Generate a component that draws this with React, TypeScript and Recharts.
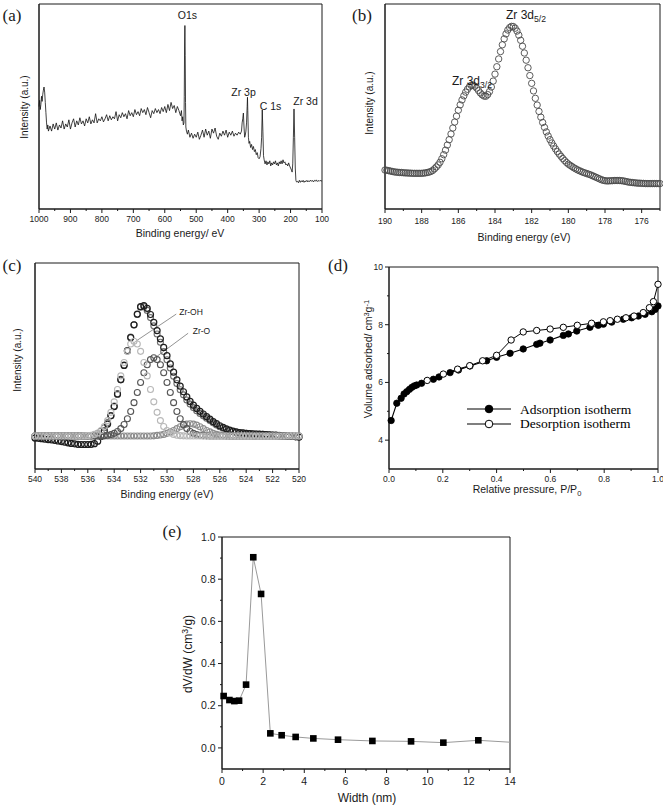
import React from 'react';
import { LineChart, Line, XAxis, YAxis, ReferenceArea, ReferenceLine, Legend } from 'recharts';

const SANS = '"Liberation Sans", Arial, Helvetica, sans-serif';
const SERIF = '"Liberation Serif", "Times New Roman", Times, serif';
const INK = '#1a1a1a';

// ---------------- (a) XPS survey ----------------
const aSurvey: number[][] = [
  [1000, 50], [998, 53], [996, 48.5], [994, 51], [992, 55], [990, 52.5], [988, 56], [986, 58], [984, 59.5], [982, 57],
  [980, 52], [978, 47], [976, 42], [974, 39], [972, 41], [970, 38],
  [965, 40.5], [960, 38], [955, 41.5], [950, 39], [945, 42], [940, 38.5], [935, 41], [930, 39.5], [925, 43], [920, 39],
  [915, 41.5], [910, 40], [905, 43.5], [900, 39], [895, 42], [890, 44], [885, 40], [880, 43], [875, 41], [870, 44.5],
  [865, 41.5], [860, 43], [855, 40.5], [850, 44], [845, 42], [840, 45], [835, 41.5], [830, 43.5], [825, 42], [820, 46.5],
  [815, 42], [810, 44], [805, 43], [800, 45], [795, 42.5], [790, 44], [785, 46], [780, 43], [775, 45.5], [770, 43.5],
  [765, 45], [760, 44], [755, 47.5], [750, 43], [745, 46], [740, 44.5], [735, 47], [730, 45], [725, 46.5], [720, 44],
  [715, 48], [710, 45.5], [705, 47], [700, 45], [695, 48.5], [690, 46], [685, 47.5], [680, 45.5], [675, 49], [670, 47],
  [665, 48.5], [660, 46], [655, 49.5], [650, 47], [645, 44.5], [640, 48], [635, 46.5], [630, 49], [625, 47], [620, 48.5],
  [615, 46.5], [610, 49.5], [605, 47.5], [600, 50], [595, 47], [590, 51], [585, 48], [580, 52], [575, 49], [570, 50.5],
  [565, 47], [560, 50], [555, 48], [550, 45.5],
  [547, 48], [545, 43], [543, 45], [541, 41], [539, 42], [538, 55], [537, 80], [536, 89.5], [535, 75], [534, 52],
  [533, 40], [531, 38], [528, 36.5], [525, 38.5],
  [520, 35], [515, 37], [510, 34.5], [505, 36.5], [500, 35], [495, 37.5], [490, 34], [485, 36], [480, 38.5], [475, 35],
  [470, 39], [465, 36], [460, 38], [455, 34.5], [450, 39], [445, 37], [440, 39.5], [435, 35.5], [430, 34], [425, 37],
  [420, 35.5], [415, 38], [410, 36], [405, 38.5], [400, 35], [395, 37.5], [390, 36], [385, 38], [380, 35.5], [375, 37],
  [370, 36], [365, 37.5], [360, 36.5],
  [356, 38], [354, 42], [352, 44], [350, 46.8], [348, 40], [346, 35], [344, 36], [342, 38], [340, 42], [338, 50],
  [337, 54.5], [336, 48], [334, 35], [332, 32], [330, 33], [327, 30], [324, 31.5], [321, 29], [318, 30.5], [315, 28],
  [312, 29], [309, 26.5], [306, 27.5], [303, 25], [300, 24.5], [297, 25.5], [294, 29.5], [292, 35], [290, 48.3], [288, 38],
  [286, 26], [284, 24], [281, 22], [278, 23.5], [275, 21.5], [272, 23], [269, 22], [266, 23.5], [263, 21], [260, 22.5],
  [257, 21.5], [254, 23], [251, 22], [248, 23.5], [245, 21.5], [242, 22.5], [239, 21], [236, 23], [233, 22], [230, 23.5],
  [227, 22], [224, 24], [221, 22.5], [218, 23], [215, 21.5], [212, 22], [209, 21], [206, 22.5], [203, 21], [200, 20],
  [197, 19], [195, 18], [193, 22], [191, 35], [189, 48.8], [187, 35], [185, 20], [183, 14], [181, 13.2], [178, 13.5],
  [175, 12.8], [172, 14], [169, 13], [166, 13.8], [163, 13.2], [160, 14], [157, 13], [154, 13.7], [151, 13.3], [148, 14],
  [145, 13.2], [142, 13.8], [139, 13.4], [136, 14.1], [133, 13.5], [130, 13.9], [127, 13.2], [124, 14], [121, 13.6], [118, 14.2],
  [115, 13.4], [112, 13.9], [109, 13.5], [106, 14], [103, 13.6], [100, 13.8],
];
const aTicks = [1000, 950, 900, 850, 800, 750, 700, 650, 600, 550, 500, 450, 400, 350, 300, 250, 200, 150, 100];
const aMajor = [1000, 900, 800, 700, 600, 500, 400, 300, 200, 100];

// ---------------- (b) Zr 3d ----------------
const bStartEV = 190;
const bStepEV = 0.1;
const bIntensity = [
  19.0, 18.9, 18.7, 18.5, 18.3, 18.1, 18.0, 17.9, 17.8, 17.8,
  17.7, 17.6, 17.6, 17.5, 17.5, 17.4, 17.4, 17.4, 17.4, 17.4,
  17.4, 17.5, 17.6, 17.8, 18.0, 18.3, 18.8, 19.6, 20.5, 21.5,
  22.8, 24.5, 26.5, 28.7, 31.2, 33.8, 36.6, 39.5, 42.4, 45.3,
  48.2, 50.8, 53.2, 55.2, 57.0, 58.4, 59.6, 60.3, 60.4, 59.9,
  59.0, 57.8, 56.6, 55.7, 55.1, 55.0, 55.8, 57.3, 59.5, 62.4,
  65.8, 69.4, 73.2, 76.8, 80.1, 83.0, 85.4, 87.3, 88.5, 89.1,
  89.0, 88.2, 86.8, 84.8, 82.3, 79.4, 76.1, 72.6, 68.9, 65.1,
  61.3, 57.6, 54.0, 50.7, 47.6, 44.8, 42.2, 39.8, 37.6, 35.6,
  33.8, 32.2, 30.7, 29.3, 28.0, 26.8, 25.7, 24.6, 23.6, 22.7,
  21.9, 21.3, 20.7, 20.1, 19.6, 19.1, 18.7, 18.3, 17.9, 17.6,
  17.3, 17.0, 16.7, 16.3, 15.9, 15.5, 15.1, 14.7, 14.3, 14.0,
  13.8, 13.7, 13.7, 13.8, 13.8, 13.9, 13.9, 13.9, 13.9, 13.8,
  13.7, 13.5, 13.3, 13.1, 13.0, 12.9, 12.8, 12.7, 12.6, 12.6,
  12.5, 12.5, 12.4, 12.4, 12.4, 12.4, 12.4, 12.4, 12.4, 12.4,
  12.4,
];
const bTicks = [190, 189, 188, 187, 186, 185, 184, 183, 182, 181, 180, 179, 178, 177, 176, 175];
const bMajor = [190, 188, 186, 184, 182, 180, 178, 176];

// ---------------- (c) O 1s ----------------
const cStartEV = 540;
const cStepEV = 0.25;
const cRaw = [
  15, 14.9, 14.7, 14.5, 14.3, 14.1, 13.9, 13.6, 13.3, 13,
  12.7, 12.4, 12.2, 12, 11.9, 11.9, 11.9, 12, 12.3, 13.5,
  15.8, 18.5, 21.8, 25.8, 30.3, 36.3, 43.3, 50.3, 57.3, 63.8,
  70, 75.2, 78.8, 79.3, 78, 75, 71.2, 67.2, 63.2, 59,
  55, 51, 47, 43.3, 40.2, 37.5, 35, 32.8, 31, 29.4,
  28, 26.7, 25.4, 24.2, 23, 22, 21, 20.2, 19.5, 18.9,
  18.4, 18, 17.7, 17.5, 17.3, 17.2, 17.1, 17, 16.9, 16.8,
  16.7, 16.6, 16.5, 16.4, 16.2, 16.1, 16, 15.9, 15.8, 15.6,
  15.5,
];
const cEnvelope = [
  16, 16, 16, 16, 16, 16, 16, 16, 16, 16, 16, 16, 16, 16, 16, 16, 16,
  16.2, 16.5, 17.2, 18.3, 20, 22.5, 26, 30.5, 36.5, 43.5, 50.5, 57.5, 64, 70, 75,
  78.5, 78.8, 77, 73.5, 69.5, 65.5, 61.5, 57, 53, 49, 45, 41.5, 38.5, 36, 33.5,
  31.5, 29.8, 28.3, 27, 25.8, 24.6, 23.5, 22.4, 21.4, 20.5, 19.8, 19.2, 18.6, 18.1, 17.8,
  17.6, 17.4, 17.3, 17.2, 17.1, 17, 16.9, 16.8, 16.7, 16.6, 16.5, 16.4, 16.3, 16.1, 16,
  15.9, 15.8, 15.7, 15.6,
];
const cZrOH = [
  16, 16, 16, 16, 16, 16, 16, 16, 16, 16, 16, 16, 16, 16, 16,
  16.1, 16.2, 16.4, 16.8, 17.5, 18.7, 20.6, 23.5, 27.5, 32.6, 38.6, 45.2, 51.7, 57.1, 60.7, 62,
  60.7, 57.1, 51.7, 45.2, 38.6, 32.6, 27.5, 23.5, 20.6, 18.7, 17.5, 16.8, 16.4, 16.2, 16.1,
  16, 16, 16, 16, 16, 16, 16, 16, 16, 16, 16, 16, 16, 16, 16, 16, 16, 16,
  16, 16, 16, 16, 16, 16, 16, 16, 16, 16, 16, 16, 16, 16, 16, 16, 16,
];
const cZrO = [
  16, 16, 16, 16, 16, 16, 16, 16, 16, 16, 16, 16, 16, 16, 16, 16, 16, 16, 16, 16,
  16.1, 16.2, 16.4, 16.7, 17.3, 18.2, 19.6, 21.6, 24.4, 27.9, 32.2, 37.1, 42, 46.7, 50.6, 53.1, 54,
  53.1, 50.6, 46.7, 42, 37.1, 32.2, 27.9, 24.4, 21.6, 19.6, 18.2, 17.3, 16.7, 16.4, 16.2, 16.1,
  16, 16, 16, 16, 16, 16, 16, 16, 16, 16, 16, 16, 16, 16,
  16, 16, 16, 16, 16, 16, 16, 16, 16, 16, 16, 16, 16, 16,
];
const cMinor = [
  16, 16, 16, 16, 16, 16, 16, 16, 16, 16, 16, 16, 16, 16, 16, 16, 16, 16,
  16, 16, 16, 16, 16, 16, 16, 16, 16, 16, 16, 16, 16, 16, 16, 16, 16, 16,
  16.1, 16.3, 16.5, 16.8, 17.3, 18, 18.7, 19.6, 20.5, 21.3, 21.8, 22,
  21.8, 21.3, 20.5, 19.6, 18.7, 18, 17.3, 16.8, 16.5, 16.3, 16.1,
  16, 16, 16, 16, 16, 16, 16, 16, 16, 16, 16,
  16, 16, 16, 16, 16, 16, 16, 16, 16, 16, 16,
];
const cTicks = [540, 539, 538, 537, 536, 535, 534, 533, 532, 531, 530, 529, 528, 527, 526, 525, 524, 523, 522, 521, 520];
const cMajor = [540, 538, 536, 534, 532, 530, 528, 526, 524, 522, 520];

// ---------------- (d) N2 isotherm ----------------
const dAdsP = [0.008, 0.029, 0.045, 0.056, 0.066, 0.076, 0.085, 0.094, 0.103, 0.121, 0.165, 0.186, 0.227, 0.258, 0.301, 0.363, 0.4, 0.45, 0.499, 0.549, 0.561, 0.599, 0.648, 0.667, 0.698, 0.747, 0.778, 0.797, 0.828, 0.871, 0.902, 0.927, 0.952, 0.977, 0.989, 1.0];
const dAdsV = [4.68, 5.28, 5.45, 5.6, 5.68, 5.76, 5.83, 5.88, 5.91, 5.97, 6.11, 6.19, 6.34, 6.43, 6.57, 6.75, 6.87, 7.01, 7.16, 7.32, 7.36, 7.47, 7.63, 7.68, 7.78, 7.91, 7.98, 8.02, 8.09, 8.19, 8.24, 8.3, 8.36, 8.45, 8.53, 8.65];
const dDesP = [0.142, 0.202, 0.255, 0.3, 0.348, 0.4, 0.454, 0.499, 0.549, 0.599, 0.648, 0.7, 0.753, 0.797, 0.822, 0.849, 0.881, 0.911, 0.945, 0.968, 0.983, 1.0];
const dDesV = [6.07, 6.29, 6.46, 6.58, 6.75, 6.94, 7.47, 7.75, 7.8, 7.85, 7.91, 7.98, 8.05, 8.1, 8.14, 8.19, 8.24, 8.3, 8.42, 8.59, 8.8, 9.4];
const dLegend = ['Adsorption isotherm', 'Desorption isotherm'];
const dXTicks = [0, 0.1, 0.2, 0.3, 0.4, 0.5, 0.6, 0.7, 0.8, 0.9, 1.0];
const dXMajor = [0, 0.2, 0.4, 0.6, 0.8, 1.0];
const dYTicks = [4, 5, 6, 7, 8, 9, 10];
const dYMajor = [4, 6, 8, 10];

// ---------------- (e) pore size distribution ----------------
const eWidth = [0.08, 0.36, 0.6, 0.83, 1.17, 1.52, 1.9, 2.35, 2.9, 3.58, 4.44, 5.64, 7.31, 9.19, 10.76, 12.46, 14.0];
const eDvdw = [0.246, 0.227, 0.222, 0.224, 0.3, 0.904, 0.73, 0.069, 0.06, 0.052, 0.045, 0.039, 0.033, 0.031, 0.025, 0.036, 0.027];
const eXTicks = [0, 1, 2, 3, 4, 5, 6, 7, 8, 9, 10, 11, 12, 13, 14];
const eXMajor = [0, 2, 4, 6, 8, 10, 12, 14];
const eYTicks = [0, 0.1, 0.2, 0.3, 0.4, 0.5, 0.6, 0.7, 0.8, 0.9, 1.0];
const eYMajor = [0, 0.2, 0.4, 0.6, 0.8, 1.0];

// ---------------- built tables ----------------
const aData = aSurvey.map(([x, y]) => ({ x, y }));
const bData = bIntensity.map((y, i) => ({ x: Math.round((bStartEV - i * bStepEV) * 100) / 100, y }));
const cData = cRaw.map((raw, i) => ({
  x: cStartEV - i * cStepEV,
  raw,
  env: cEnvelope[i],
  oh: cZrOH[i],
  o: cZrO[i],
  minor: cMinor[i],
}));
const dAds = dAdsP.map((x, i) => ({ x, y: dAdsV[i] }));
const dDes = dDesP.map((x, i) => ({ x, y: dDesV[i] }));
const eData = eWidth.map((x, i) => ({ x, y: eDvdw[i] }));

// ---------------- helpers ----------------
const PAD_L = 50;
const PAD_T = 10;
const PAD_B = 30;

const isIn = (arr: number[], v: number) => arr.some((m) => Math.abs(m - v) < 1e-6);

function bottomTick(major: number[], fmt: (v: number) => string, fs: number, dy: number) {
  return (p: any) => {
    const v = Number(p.payload.value);
    const maj = isIn(major, v);
    return (
      <g>
        <line x1={p.x} x2={p.x} y1={p.y} y2={p.y + (maj ? 4 : 2)} stroke={INK} strokeWidth={1} />
        {maj ? (
          <text x={p.x} y={p.y + dy} textAnchor="middle" fontSize={fs} fontFamily={SANS} fill={INK}>
            {fmt(v)}
          </text>
        ) : null}
      </g>
    );
  };
}

function leftTick(major: number[], fmt: (v: number) => string, fs: number, gap: number) {
  return (p: any) => {
    const v = Number(p.payload.value);
    const maj = isIn(major, v);
    return (
      <g>
        <line x1={p.x} x2={p.x - (maj ? 4 : 2)} y1={p.y} y2={p.y} stroke={INK} strokeWidth={1} />
        {maj ? (
          <text x={p.x - gap} y={p.y + fs * 0.35} textAnchor="end" fontSize={fs} fontFamily={SANS} fill={INK}>
            {fmt(v)}
          </text>
        ) : null}
      </g>
    );
  };
}

function Panel({ box, padR = 20, children }: any) {
  const width = box.R - box.L + PAD_L + padR;
  const height = box.B - box.T + PAD_T + PAD_B;
  return (
    <div style={{ position: 'absolute', left: box.L - PAD_L, top: box.T - PAD_T, width, height }}>
      <LineChart width={width} height={height} margin={{ top: PAD_T, right: padR, bottom: 0, left: 0 }}>
        {children}
      </LineChart>
    </div>
  );
}

function Txt({ x, y, size, serif, rotate, children }: any) {
  return (
    <div
      style={{
        position: 'absolute',
        left: x,
        top: y,
        fontSize: size,
        fontFamily: serif ? SERIF : SANS,
        color: INK,
        whiteSpace: 'nowrap',
        lineHeight: 1,
        transform: `translate(-50%, -50%)${rotate ? ' rotate(-90deg)' : ''}`,
      }}
    >
      {children}
    </div>
  );
}

const Sub = ({ children }: any) => (
  <span style={{ fontSize: '0.72em', position: 'relative', top: '0.35em' }}>{children}</span>
);
const Sup = ({ children }: any) => (
  <span style={{ fontSize: '0.72em', position: 'relative', top: '-0.45em' }}>{children}</span>
);

const ring = (stroke: string, r: number, w = 1) => ({ r, stroke, strokeWidth: w, fill: 'none' });

const BOX_A = { L: 39, T: 4, R: 322, B: 209 };
const BOX_B = { L: 385, T: 4, R: 660, B: 209 };
const BOX_C = { L: 35, T: 263, R: 299, B: 469 };
const BOX_D = { L: 389, T: 267, R: 658, B: 469 };
const BOX_E = { L: 222, T: 537, R: 510, B: 769 };

const fmtInt = (v: number) => String(Math.round(v));
const fmt1 = (v: number) => v.toFixed(1);

const legendContent = () => (
  <div style={{ fontFamily: SERIF, fontSize: 13.5, color: '#000' }}>
    {dLegend.map((name, i) => (
      <div key={name} style={{ display: 'flex', alignItems: 'center', height: 14.5 }}>
        <svg width={46} height={12} style={{ display: 'block' }}>
          <line x1={1} x2={45} y1={6} y2={6} stroke="#000" strokeWidth={1.2} />
          <circle cx={23} cy={6} r={3.8} fill={i === 0 ? '#000' : '#fff'} stroke="#000" strokeWidth={1} />
        </svg>
        <span style={{ marginLeft: 8, lineHeight: 1 }}>{name}</span>
      </div>
    ))}
  </div>
);

const squareDot = (p: any) => {
  if (p.index === eWidth.length - 1) return <g key={`sq-${p.index}`} />;
  return <rect key={`sq-${p.index}`} x={p.cx - 3.3} y={p.cy - 3.3} width={6.6} height={6.6} fill="#000" />;
};

export default function App() {
  return (
    <div style={{ position: 'relative', width: 663, height: 807, background: '#fff', overflow: 'hidden' }}>
      <style>{`html,body{margin:0;padding:0;overflow:hidden;background:#fff}`}</style>

      {/* (a) */}
      <Panel box={BOX_A}>
        <XAxis type="number" dataKey="x" domain={[100, 1000]} reversed ticks={aTicks} interval={0}
          tickSize={0} tickMargin={0} tickLine={false} height={PAD_B} axisLine={{ stroke: INK }}
          tick={bottomTick(aMajor, fmtInt, 8.5, 12.5)} />
        <YAxis type="number" domain={[0, 100]} tick={false} tickLine={false} width={PAD_L} axisLine={{ stroke: INK }} />
        <ReferenceArea x1={100} x2={1000} y1={0} y2={100} fill="none" stroke={INK} strokeWidth={1} ifOverflow="visible" />
        <Line data={aData} dataKey="y" type="linear" stroke="#111" strokeWidth={0.8} dot={false} activeDot={false} isAnimationActive={false} />
      </Panel>

      {/* (b) */}
      <Panel box={BOX_B} padR={3}>
        <XAxis type="number" dataKey="x" domain={[175, 190]} reversed ticks={bTicks} interval={0}
          tickSize={0} tickMargin={0} tickLine={false} height={PAD_B} axisLine={{ stroke: INK }}
          tick={bottomTick(bMajor, fmtInt, 8.5, 14.5)} />
        <YAxis type="number" domain={[0, 100]} tick={false} tickLine={false} width={PAD_L} axisLine={{ stroke: INK }} />
        <ReferenceArea x1={175} x2={190} y1={0} y2={100} fill="none" stroke={INK} strokeWidth={1} ifOverflow="visible" />
        <Line data={bData} dataKey="y" type="linear" stroke="none" dot={ring('#4a4a4a', 3.2, 0.9)} activeDot={false} isAnimationActive={false} />
      </Panel>

      {/* (c) */}
      <Panel box={BOX_C}>
        <XAxis type="number" dataKey="x" domain={[520, 540]} reversed ticks={cTicks} interval={0}
          tickSize={0} tickMargin={0} tickLine={false} height={PAD_B} axisLine={{ stroke: INK }}
          tick={bottomTick(cMajor, fmtInt, 8.5, 13)} />
        <YAxis type="number" domain={[0, 100]} tick={false} tickLine={false} width={PAD_L} axisLine={{ stroke: INK }} />
        <ReferenceArea x1={520} x2={540} y1={0} y2={100} fill="none" stroke={INK} strokeWidth={1} ifOverflow="visible" />
        <Line data={cData} dataKey="env" type="linear" stroke="none" dot={ring('#707070', 3, 1.1)} activeDot={false} isAnimationActive={false} />
        <Line data={cData} dataKey="raw" type="linear" stroke="none" dot={ring('#1e1e1e', 3, 1.2)} activeDot={false} isAnimationActive={false} />
        <Line data={cData} dataKey="minor" type="linear" stroke="none" dot={ring('#8c8c8c', 3, 1.1)} activeDot={false} isAnimationActive={false} />
        <Line data={cData} dataKey="o" type="linear" stroke="none" dot={ring('#555555', 3, 1.1)} activeDot={false} isAnimationActive={false} />
        <Line data={cData} dataKey="oh" type="linear" stroke="none" dot={ring('#b8b8b8', 3, 1.1)} activeDot={false} isAnimationActive={false} />
        <ReferenceLine segment={[{ x: 529.3, y: 75.2 }, { x: 532.3, y: 62.3 }]} stroke="#777" strokeWidth={0.8} ifOverflow="visible" />
        <ReferenceLine segment={[{ x: 528.4, y: 65.9 }, { x: 530.8, y: 54.5 }]} stroke="#777" strokeWidth={0.8} ifOverflow="visible" />
      </Panel>

      {/* (d) */}
      <Panel box={BOX_D} padR={5}>
        <XAxis type="number" dataKey="x" domain={[0, 1]} ticks={dXTicks} interval={0}
          tickSize={0} tickMargin={0} tickLine={false} height={PAD_B} axisLine={{ stroke: INK }}
          tick={bottomTick(dXMajor, fmt1, 8.5, 13)} />
        <YAxis type="number" domain={[3, 10]} ticks={dYTicks} interval={0}
          tickSize={0} tickMargin={0} tickLine={false} width={PAD_L} axisLine={{ stroke: INK }}
          tick={leftTick(dYMajor, fmtInt, 8.5, 6)} />
        <ReferenceArea x1={0} x2={1} y1={3} y2={10} fill="none" stroke={INK} strokeWidth={1} ifOverflow="visible" />
        <Line data={dAds} dataKey="y" name={dLegend[0]} type="linear" stroke="#000" strokeWidth={1.1}
          dot={{ r: 3.2, fill: '#000', stroke: '#000', strokeWidth: 0.8 }} activeDot={false} isAnimationActive={false} />
        <Line data={dDes} dataKey="y" name={dLegend[1]} type="linear" stroke="#000" strokeWidth={1}
          dot={{ r: 3.2, fill: '#fff', stroke: '#000', strokeWidth: 1 }} activeDot={false} isAnimationActive={false} />
        <Legend layout="vertical" align="center" verticalAlign="middle" content={legendContent}
          wrapperStyle={{ left: 127, top: 145, width: 'auto', height: 'auto' }} />
      </Panel>

      {/* (e) */}
      <Panel box={BOX_E}>
        <XAxis type="number" dataKey="x" domain={[0, 14]} ticks={eXTicks} interval={0}
          tickSize={0} tickMargin={0} tickLine={false} height={PAD_B} axisLine={{ stroke: INK }}
          tick={bottomTick(eXMajor, fmtInt, 10.5, 15.7)} />
        <YAxis type="number" domain={[-0.1, 1.0]} ticks={eYTicks} interval={0}
          tickSize={0} tickMargin={0} tickLine={false} width={PAD_L} axisLine={{ stroke: INK }}
          tick={leftTick(eYMajor, fmt1, 10.5, 6.3)} />
        <ReferenceArea x1={0} x2={14} y1={-0.1} y2={1.0} fill="none" stroke={INK} strokeWidth={1} ifOverflow="visible" />
        <Line data={eData} dataKey="y" type="linear" stroke="#9a9a9a" strokeWidth={1} dot={squareDot} activeDot={false} isAnimationActive={false} />
      </Panel>

      {/* panel letters */}
      <Txt x={12} y={15} size={17} serif>(a)</Txt>
      <Txt x={362} y={15} size={17} serif>(b)</Txt>
      <Txt x={12} y={265} size={17} serif>(c)</Txt>
      <Txt x={338} y={265} size={17} serif>(d)</Txt>
      <Txt x={172} y={531} size={17} serif>(e)</Txt>

      {/* axis titles */}
      <Txt x={24.5} y={107} size={10} rotate>Intensity (a.u.)</Txt>
      <Txt x={180} y={233} size={10.5}>Binding energy/ eV</Txt>
      <Txt x={370} y={103} size={10} rotate>Intensity (a.u.)</Txt>
      <Txt x={524} y={237} size={10.5}>Binding energy (eV)</Txt>
      <Txt x={18} y={360} size={10} rotate>Intensity (a.u.)</Txt>
      <Txt x={167} y={494} size={10.5}>Binding energy (eV)</Txt>
      <Txt x={368} y={359} size={10.5} rotate>Volume adsorbed/ cm<Sup>3</Sup>g<Sup>-1</Sup></Txt>
      <Txt x={527} y={489} size={10.5}>Relative pressure, P/P<Sub>0</Sub></Txt>
      <Txt x={187.5} y={653.5} size={12} rotate>dV/dW (cm<Sup>3</Sup>/g)</Txt>
      <Txt x={367} y={798} size={12}>Width (nm)</Txt>

      {/* peak annotations */}
      <Txt x={187.5} y={15} size={10.5}>O1s</Txt>
      <Txt x={243.5} y={92} size={10.5}>Zr 3p</Txt>
      <Txt x={270.5} y={106} size={10.5}>C 1s</Txt>
      <Txt x={305.5} y={101} size={10.5}>Zr 3d</Txt>
      <Txt x={526} y={15} size={12}>Zr 3d<Sub>5/2</Sub></Txt>
      <Txt x={472} y={81} size={12}>Zr 3d<Sub>3/2</Sub></Txt>
      <Txt x={191} y={312} size={8.5}>Zr-OH</Txt>
      <Txt x={201.5} y={331} size={8.5}>Zr-O</Txt>
    </div>
  );
}
